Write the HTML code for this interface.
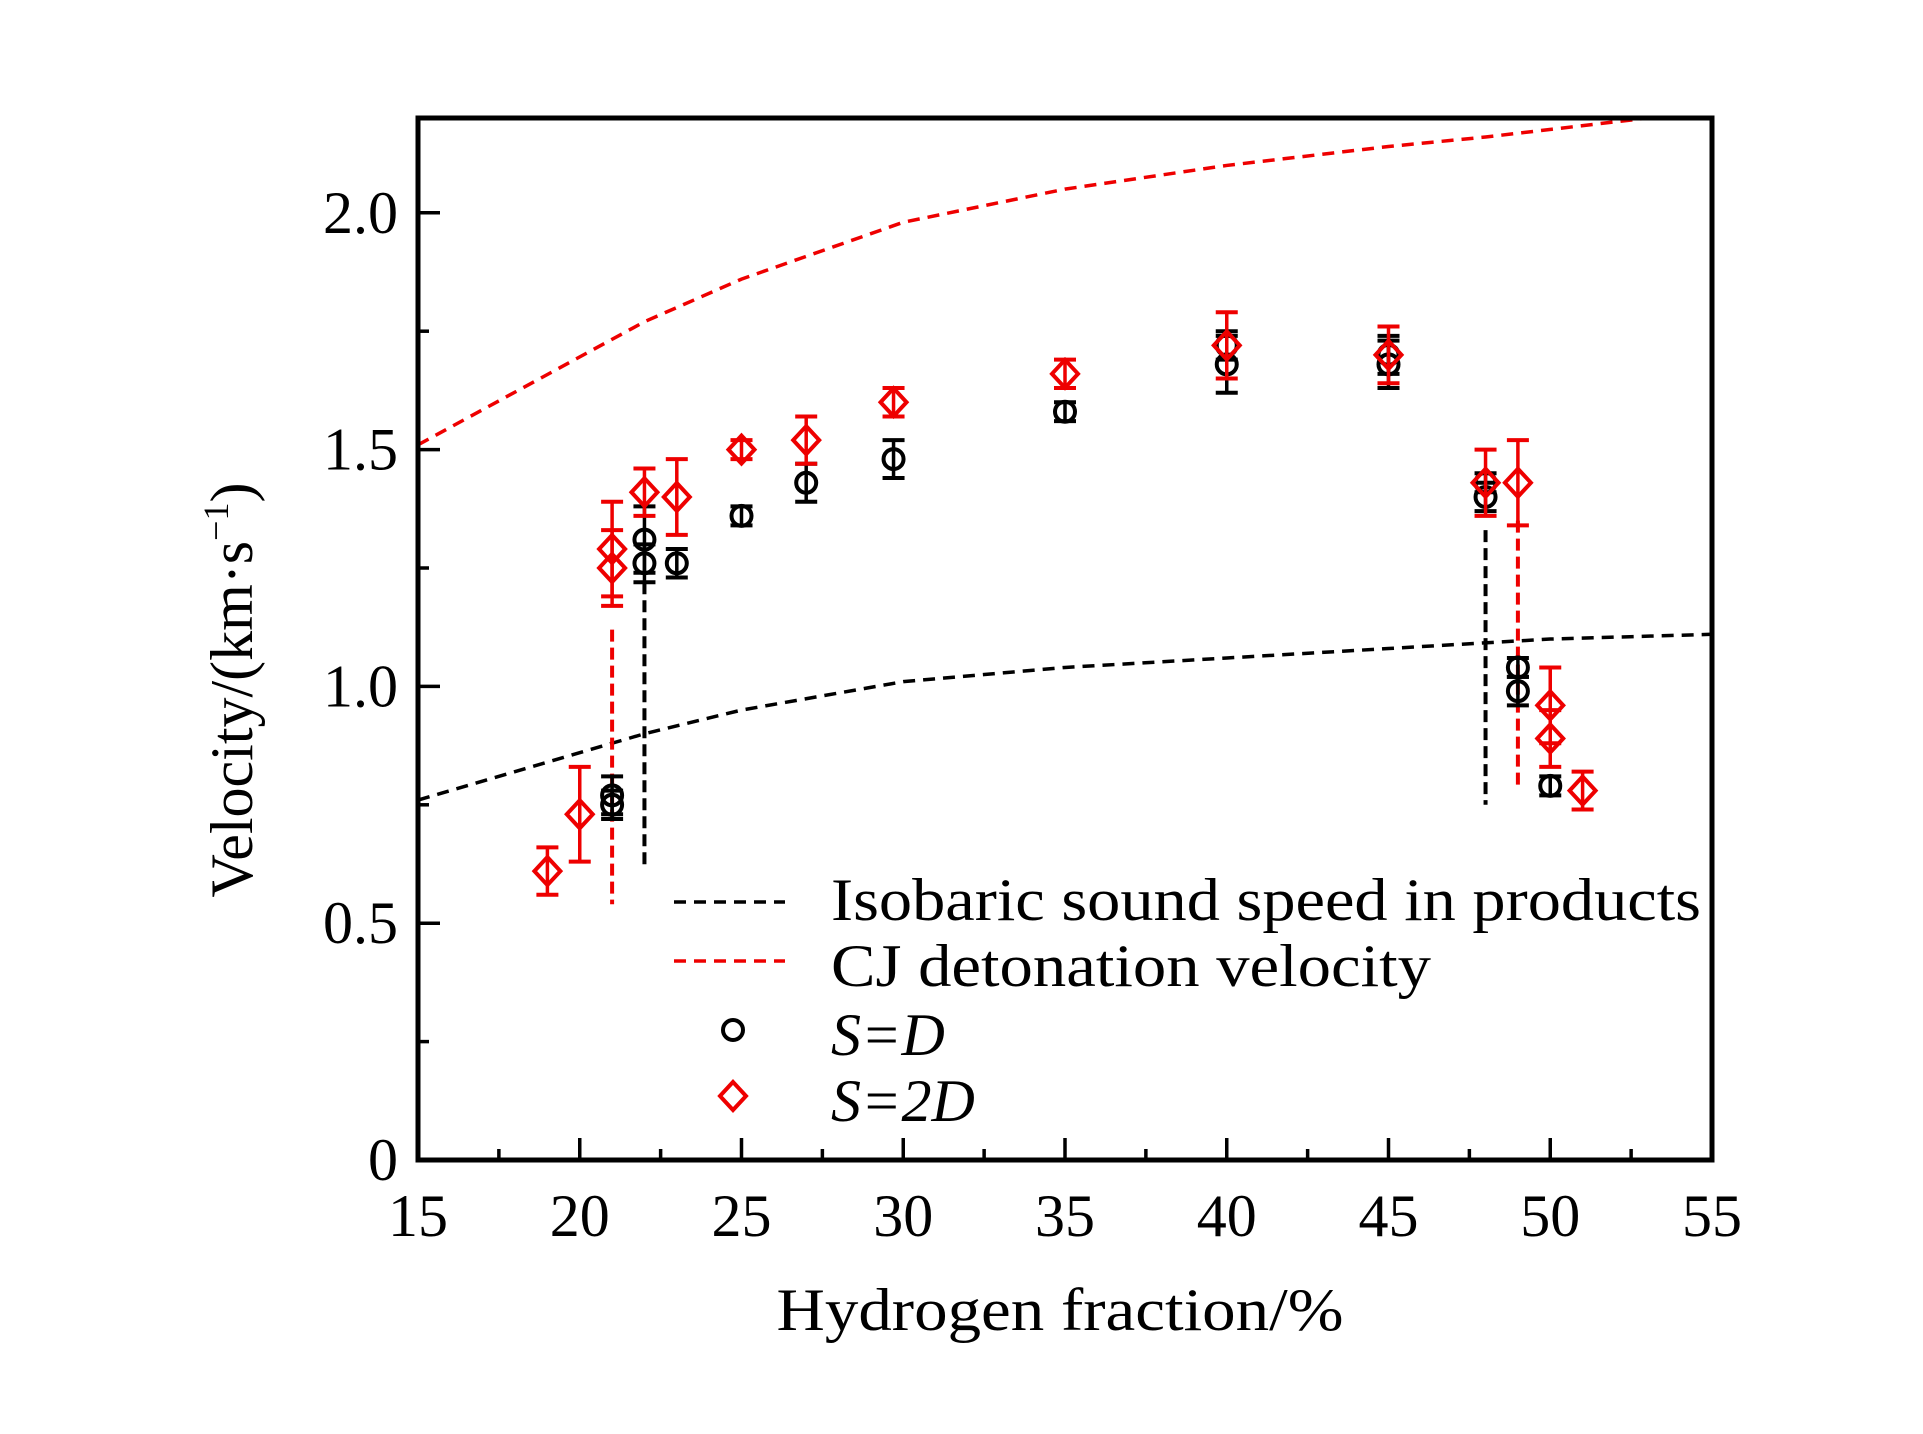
<!DOCTYPE html>
<html><head><meta charset="utf-8"><style>
html,body{margin:0;padding:0;background:#fff;}
svg text{font-family:"Liberation Serif",serif;}
</style></head><body>
<svg id="chart" width="1923" height="1429" viewBox="0 0 1923 1429" xmlns="http://www.w3.org/2000/svg">
<rect width="1923" height="1429" fill="#fff"/>
<g id="plot"></g>
<rect x="418" y="118" width="1294" height="1042" fill="none" stroke="#000" stroke-width="5"/>
<text x="1060" y="1330" font-size="60" text-anchor="middle" textLength="567" lengthAdjust="spacingAndGlyphs">Hydrogen fraction/%</text>
<text transform="translate(252,690) rotate(-90)" font-size="60" text-anchor="middle">Velocity/(km·s<tspan font-size="36" dy="-24">−1</tspan><tspan dy="24">)</tspan></text>
<g>
<line x1="674" y1="902" x2="785" y2="902" stroke="#000" stroke-width="3.5" stroke-dasharray="12,8"/>
<text x="831" y="920" font-size="60" textLength="870" lengthAdjust="spacingAndGlyphs">Isobaric sound speed in products</text>
<line x1="674" y1="961" x2="785" y2="961" stroke="#e00" stroke-width="3.5" stroke-dasharray="12,8"/>
<text x="831" y="986" font-size="60" textLength="600" lengthAdjust="spacingAndGlyphs">CJ detonation velocity</text>
<circle cx="733" cy="1030" r="10" fill="none" stroke="#000" stroke-width="4"/>
<text x="831" y="1055" font-size="60" font-style="italic">S=D</text>
<path d="M733,1082 L746,1096 L733,1110 L720,1096 Z" fill="none" stroke="#e00" stroke-width="4"/>
<text x="831" y="1121" font-size="60" font-style="italic">S=2D</text>
</g>
</svg>
<script>
const xTicks=[15,20,25,30,35,40,45,50,55];
const yTicks=[0,0.5,1.0,1.5,2.0];
const yTickLabels=["0","0.5","1.0","1.5","2.0"];
const cjX=[15,22,25,30,35,40,45,48,53];
const cjY=[1.51,1.77,1.86,1.98,2.05,2.10,2.14,2.16,2.2];
const ssX=[15,22,25,30,35,40,45,50,55];
const ssY=[0.76,0.90,0.95,1.01,1.04,1.06,1.08,1.10,1.11];
const sdX=[21,21,22,22,23,25,27,29.7,35,40,40,45,45,48,48,49,49,50];
const sdY=[0.77,0.75,1.31,1.26,1.26,1.36,1.43,1.48,1.58,1.68,1.72,1.68,1.70,1.40,1.43,1.04,0.99,0.79];
const sdErr=[0.04,0.03,0.07,0.04,0.03,0.02,0.04,0.04,0.02,0.06,0.03,0.05,0.04,0.03,0.02,0.02,0.03,0.02];
const s2dX=[19,20,21,21,22,23,25,27,29.7,35,40,45,48,49,50,50,51];
const s2dY=[0.61,0.73,1.29,1.25,1.41,1.40,1.50,1.52,1.60,1.66,1.72,1.70,1.43,1.43,0.96,0.89,0.78];
const s2dErr=[0.05,0.10,0.10,0.08,0.05,0.08,0.02,0.05,0.03,0.03,0.07,0.06,0.07,0.09,0.08,0.06,0.04];
const vlX=[22,21,48,49];
const vlTop=[1.22,1.12,1.33,1.35];
const vlBot=[0.62,0.54,0.75,0.78];
const vlColor=["#000","#e00","#000","#e00"];

const NS="http://www.w3.org/2000/svg";
const X=v=>418+(v-15)*1294/40;
const Y=v=>1160-v*473.6;
const g=document.getElementById('plot');
function mk(tag,attrs){const e=document.createElementNS(NS,tag);for(const k in attrs)e.setAttribute(k,attrs[k]);g.appendChild(e);return e;}

for(let v=15;v<=55;v+=2.5){const major=(v%5===0);
 const t=mk('line',{x1:X(v),x2:X(v),y1:1160,y2:1160-(major?22:11),stroke:'#000','stroke-width':3.5});
 
 }
for(let v=0;v<=2.2;v+=0.25){const major=(Math.abs(v*2-Math.round(v*2))<1e-6);
 const t=mk('line',{x1:418,x2:418+(major?22:11),y1:Y(v),y2:Y(v),stroke:'#000','stroke-width':3.5});
 
 }
xTicks.forEach(v=>{const t=mk('text',{x:X(v),y:1236,'font-size':60,'text-anchor':'middle'});t.textContent=v;
 
 });
yTicks.forEach((v,i)=>{const t=mk('text',{x:398,y:Y(v)+20,'font-size':60,'text-anchor':'end'});t.textContent=yTickLabels[i];
 
 });

const cp=mk('clipPath',{id:'clip'});const cr=document.createElementNS(NS,'rect');
cr.setAttribute('x',418);cr.setAttribute('y',118);cr.setAttribute('width',1294);cr.setAttribute('height',1042);cp.appendChild(cr);
function line(xs,ys,color,name){const p=mk('polyline',{points:xs.map((x,i)=>X(x)+','+Y(ys[i])).join(' '),fill:'none',stroke:color,'stroke-width':3.5,'stroke-dasharray':'12,8','clip-path':'url(#clip)'});
 
 }
line(cjX,cjY,'#e00','cj-velocity-line');
line(ssX,ssY,'#000','sound-speed-line');
vlX.forEach((x,i)=>{const l=mk('line',{x1:X(x),x2:X(x),y1:Y(vlTop[i]),y2:Y(vlBot[i]),stroke:vlColor[i],'stroke-width':4,'stroke-dasharray':'12,6'});
 
 });
function err(x,y,e,c){const cx=X(x);
 mk('line',{x1:cx,x2:cx,y1:Y(y+e),y2:Y(y-e),stroke:c,'stroke-width':3.5});
 mk('line',{x1:cx-11,x2:cx+11,y1:Y(y+e),y2:Y(y+e),stroke:c,'stroke-width':4});
 mk('line',{x1:cx-11,x2:cx+11,y1:Y(y-e),y2:Y(y-e),stroke:c,'stroke-width':4});}
sdX.forEach((x,i)=>{err(x,sdY[i],sdErr[i],'#000');
 const c=mk('circle',{cx:X(x),cy:Y(sdY[i]),r:10,fill:'none',stroke:'#000','stroke-width':4});
 
 });
s2dX.forEach((x,i)=>{err(x,s2dY[i],s2dErr[i],'#e00');const cx=X(x),cy=Y(s2dY[i]);
 const d=mk('path',{d:`M${cx},${cy-14} L${cx+13},${cy} L${cx},${cy+14} L${cx-13},${cy} Z`,fill:'none',stroke:'#e00','stroke-width':4});
 
 });
</script>
</body></html>
